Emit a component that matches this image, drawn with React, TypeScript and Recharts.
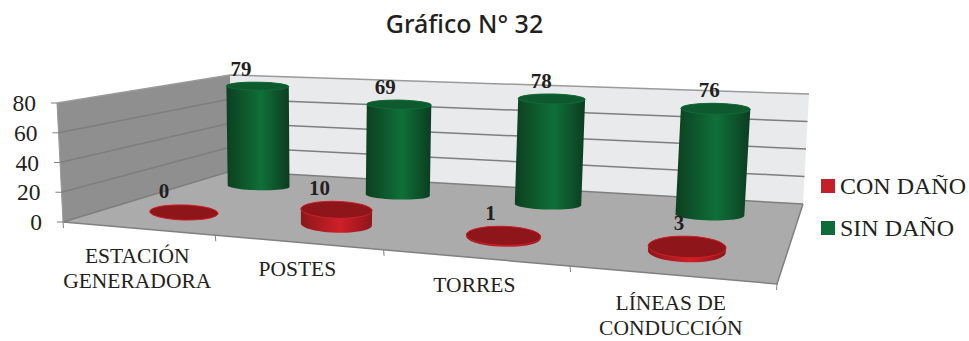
import React from 'react';
import { BarChart, Bar, XAxis, YAxis, Customized } from 'recharts';

const categories = ['ESTACIÓN GENERADORA', 'POSTES', 'TORRES', 'LÍNEAS DE CONDUCCIÓN'];
const tickLines = [['ESTACIÓN', 'GENERADORA'], ['POSTES'], ['TORRES'], ['LÍNEAS DE', 'CONDUCCIÓN']];
const conDano = [0, 10, 1, 3];
const sinDano = [79, 69, 78, 76];
const yTicks = [0, 20, 40, 60, 80];

const chartData = categories.map((name, i) => ({ name, con: conDano[i], sin: sinDano[i] }));

const WIDTH = 969;
const HEIGHT = 341;
const M = { left: 59, right: 109, top: 20, bottom: 20 };
const PLOT_LEFT = M.left + 1;
const PLOT_BOTTOM = HEIGHT - M.bottom - 1;
const PW = WIDTH - M.left - M.right - 1;
const PH = HEIGHT - M.top - M.bottom - 1;

const SERIF = '"Liberation Serif", serif';
const INK = '#231f20';

// floor corners of the fake 3d box, order: front-left, front-right, back-right, back-left
const FLOOR = [[63, 222], [777, 284], [803, 204], [231, 171]];
// wall height vector at the same corners
const RISE = [[-6, -119], [11, -134], [6, -110], [-1, -96]];

const [p0, p1, p2, p3] = FLOOR;
const sx = p0[0] - p1[0] + p2[0] - p3[0];
const sy = p0[1] - p1[1] + p2[1] - p3[1];
const dx1 = p1[0] - p2[0];
const dx2 = p3[0] - p2[0];
const dy1 = p1[1] - p2[1];
const dy2 = p3[1] - p2[1];
const det = dx1 * dy2 - dx2 * dy1;
const g = (sx * dy2 - dx2 * sy) / det;
const h = (dx1 * sy - sx * dy1) / det;
const a = p1[0] - p0[0] + g * p1[0];
const b = p3[0] - p0[0] + h * p3[0];
const d = p1[1] - p0[1] + g * p1[1];
const e = p3[1] - p0[1] + h * p3[1];

// u along categories, v depth (0 front, 1 back), z value height 0..1
const project = (u0: number, v: number, z: number) => {
  // the picture has a weaker perspective along the front edge than the corners alone give
  const u = u0 + 0.09 * u0 * (1 - u0);
  const w = g * u + h * v + 1;
  const fx = (a * u + b * v + p0[0]) / w;
  const fy = (d * u + e * v + p0[1]) / w;
  const rx = (1 - u) * (1 - v) * RISE[0][0] + u * (1 - v) * RISE[1][0] + u * v * RISE[2][0] + (1 - u) * v * RISE[3][0];
  const ry = (1 - u) * (1 - v) * RISE[0][1] + u * (1 - v) * RISE[1][1] + u * v * RISE[2][1] + (1 - u) * v * RISE[3][1];
  return [fx + z * rx, fy + z * ry];
};

const toPath = (pts: number[][]) => pts.map((p, i) => `${i ? 'L' : 'M'}${p[0].toFixed(1)},${p[1].toFixed(1)}`).join('') + 'Z';

const hull = (pts: number[][]) => {
  const s = [...pts].sort((m, n) => m[0] - n[0] || m[1] - n[1]);
  const cross = (o: number[], m: number[], n: number[]) => (m[0] - o[0]) * (n[1] - o[1]) - (m[1] - o[1]) * (n[0] - o[0]);
  const build = (list: number[][]) => {
    const out: number[][] = [];
    list.forEach((p) => {
      while (out.length > 1 && cross(out[out.length - 2], out[out.length - 1], p) <= 0) out.pop();
      out.push(p);
    });
    out.pop();
    return out;
  };
  return [...build(s), ...build([...s].reverse())];
};

const RU = 0.052;

const ellipse = (u: number, v: number, z: number, baseRx: number, rv: number) => {
  const c = project(u, v, z);
  const l = project(u - RU, v, z);
  const r = project(u + RU, v, z);
  const f = project(u, v - rv, 0);
  const k = project(u, v + rv, 0);
  const len = Math.hypot(r[0] - l[0], r[1] - l[1]);
  // excel flattens the ellipses, so only part of the floor slope and of the perspective shows
  const ax = (r[0] - l[0]) / len;
  const ay = ((r[1] - l[1]) / len) * 0.35;
  const rx = len / 4 + baseRx;
  const ry = Math.abs(f[1] - k[1]) / 2;
  const pts: number[][] = [];
  for (let i = 0; i < 48; i++) {
    const t = (i / 48) * Math.PI * 2;
    pts.push([c[0] + rx * Math.cos(t) * ax, c[1] + rx * Math.cos(t) * ay + ry * Math.sin(t)]);
  }
  return { pts, c, ry };
};

const Cylinder = (props: any) => {
  const { x, y, width, depth, shift, baseRx, rv, gradient, topFill, rimFill, value } = props;
  const u = (x + width / 2 - PLOT_LEFT) / PW + shift;
  const z = ((PLOT_BOTTOM - y) / PH) * 0.975;
  const bottom = ellipse(u, depth, 0, baseRx, rv);
  const top = ellipse(u, depth, z, baseRx, rv);
  const lx = project(u, depth - 0.1, z)[0] - 2;
  const num = Array.isArray(value) ? value[1] : value;
  return (
    <g>
      <path d={toPath(hull([...bottom.pts, ...top.pts]))} fill={`url(#${gradient})`} />
      <path d={toPath(top.pts)} fill={topFill} stroke={rimFill} strokeWidth={1} />
      <text x={lx} y={top.c[1] - top.ry - 6.5} textAnchor="middle" fontFamily={SERIF} fontWeight="bold" fontSize={21} fill={INK}>
        {num}
      </text>
    </g>
  );
};

const Box = () => {
  const wall = (u0: number, v0: number, u1: number, v1: number) =>
    toPath([project(u0, v0, 0), project(u1, v1, 0), project(u1, v1, 1), project(u0, v0, 1)]);
  const line = (pts: number[][]) => pts.map((p, i) => `${i ? 'L' : 'M'}${p[0].toFixed(1)},${p[1].toFixed(1)}`).join('');
  return (
    <g>
      <defs>
        <linearGradient id="greenBody" x1="0" y1="0" x2="1" y2="0">
          <stop offset="0%" stopColor="#0c3f20" />
          <stop offset="55%" stopColor="#0f7039" />
          <stop offset="100%" stopColor="#0b3d1f" />
        </linearGradient>
        <linearGradient id="redBody" x1="0" y1="0" x2="1" y2="0">
          <stop offset="0%" stopColor="#8c171b" />
          <stop offset="55%" stopColor="#d01f28" />
          <stop offset="100%" stopColor="#8c161a" />
        </linearGradient>
      </defs>
      <path d={wall(0, 1, 1, 1)} fill="#e9eaeb" />
      <path d={wall(0, 0, 0, 1)} fill="#8f8f8f" />
      <path d={toPath(FLOOR)} fill="#ababab" />
      {yTicks.map((t) => {
        const z = t / 80;
        return (
          <path
            key={t}
            d={line([project(0, 0, z), project(0, 1, z), project(1, 1, z)])}
            fill="none"
            stroke={t === 80 ? '#9a9a9a' : '#7e7e7e'}
            strokeWidth={1.5}
          />
        );
      })}
      <path d={line([project(0, 0, 0), project(1, 0, 0), project(1, 1, 0)])} fill="none" stroke="#808080" strokeWidth={1.5} />
      <path d={line([project(0, 0, 0), project(0, 0, 1)])} fill="none" stroke="#9a9a9a" strokeWidth={1} />
      <path d={line([project(1, 0, 0), [project(1, 0, 0)[0] - 0.5, project(1, 0, 0)[1] + 6]])} fill="none" stroke="#808080" strokeWidth={1} />
    </g>
  );
};

const YTick = (props: any) => {
  const { y, payload } = props;
  const z = (PLOT_BOTTOM - y) / PH;
  const p = project(0, 0, z);
  return (
    <g>
      <line x1={p[0] - 6} y1={p[1]} x2={p[0]} y2={p[1]} stroke="#808080" strokeWidth={1} />
      <text x={p[0] - 21} y={p[1] + 8} textAnchor="end" fontFamily={SERIF} fontSize={23.5} fill={INK}>
        {payload.value}
      </text>
    </g>
  );
};

const XTick = (props: any) => {
  const { x, index } = props;
  const u = (x - PLOT_LEFT) / PW;
  const c = project(u, 0, 0);
  const edge = project(index / categories.length, 0, 0);
  const lines = tickLines[index];
  const first = c[1] + (lines.length > 1 ? 35 : 34);
  return (
    <g>
      <line x1={edge[0]} y1={edge[1]} x2={edge[0] + 0.5} y2={edge[1] + 6} stroke="#808080" strokeWidth={1} />
      <text textAnchor="middle" fontFamily={SERIF} fontSize={21.5} fill={INK}>
        {lines.map((t, i) => (
          <tspan key={t} x={c[0]} y={first + i * 25}>
            {t}
          </tspan>
        ))}
      </text>
    </g>
  );
};

export default function App() {
  return (
    <div style={{ position: 'absolute', left: 0, top: 0, width: WIDTH, height: HEIGHT, background: '#fff' }}>
      <div
        style={{
          position: 'absolute',
          left: 0,
          width: 929,
          top: 6,
          textAlign: 'center',
          fontFamily: '"Noto Sans", sans-serif',
          fontWeight: 500,
          fontSize: 25,
          color: INK,
        }}
      >
        Gráfico N° 32
      </div>
      <BarChart width={WIDTH} height={HEIGHT} data={chartData} margin={M} barSize={30} barGap={-30}>
        <Customized component={Box} />
        <XAxis dataKey="name" height={1} axisLine={false} tickLine={false} tick={<XTick />} interval={0} />
        <YAxis domain={[0, 80]} ticks={yTicks} width={1} axisLine={false} tickLine={false} tick={<YTick />} />
        <Bar
          dataKey="sin"
          isAnimationActive={false}
          shape={<Cylinder depth={0.74} shift={-0.003} baseRx={17} rv={0.085} gradient="greenBody" topFill="#0e5a2e" rimFill="#0f6b37" />}
        />
        <Bar
          dataKey="con"
          isAnimationActive={false}
          shape={<Cylinder depth={0.25} shift={0} baseRx={19} rv={0.125} gradient="redBody" topFill="#8e1519" rimFill="#cf1f28" />}
        />
      </BarChart>
      {[
        { label: 'CON DAÑO', color: '#c4202a', top: 170 },
        { label: 'SIN DAÑO', color: '#0f6b38', top: 212 },
      ].map((it) => (
        <div key={it.label} style={{ position: 'absolute', left: 821, top: it.top, display: 'flex', alignItems: 'center', height: 32 }}>
          <span style={{ width: 14, height: 14, background: it.color, marginRight: 5 }} />
          <span style={{ fontFamily: SERIF, fontSize: 24, color: INK, whiteSpace: 'nowrap' }}>{it.label}</span>
        </div>
      ))}
    </div>
  );
}
